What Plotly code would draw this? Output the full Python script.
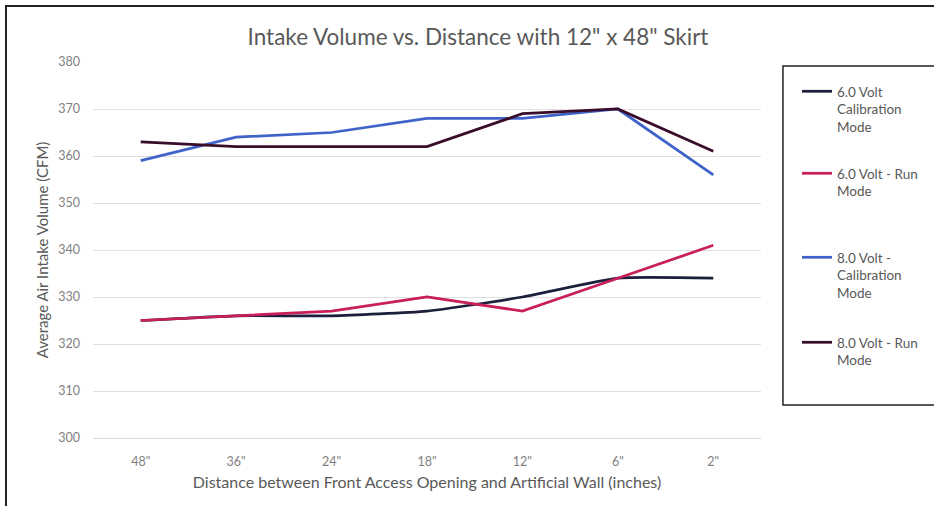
import plotly.graph_objects as go

categories = ['48"', '36"', '24"', '18"', '12"', '6"', '2"']
v6_cal = [325, 326, 326, 327, 330, 334, 334]
v6_run = [325, 326, 327, 330, 327, 334, 341]
v8_cal = [359, 364, 365, 368, 368, 370, 356]
v8_run = [363, 362, 362, 362, 369, 370, 361]

names = ["6.0 Volt<br>Calibration<br>Mode", "6.0 Volt - Run<br>Mode",
         "8.0 Volt -<br>Calibration<br>Mode", "8.0 Volt - Run<br>Mode"]
series = [v6_cal, v6_run, v8_cal, v8_run]
colors = ["#1c1f3c", "#c81f5a", "#3f63c9", "#3a0c2c"]
legends = ["legend", "legend2", "legend3", "legend4"]
shapes_line = ["spline", "linear", "linear", "linear"]

W, H = 934, 506
L, R, T, B = 93, 172, 62, 68
pw, ph = W - L - R, H - T - B

def px(x):
    return (x - L) / pw

def py(y):
    return (H - B - y) / ph

font = "Lato, 'Open Sans', sans-serif"
fig = go.Figure()
for name, vals, c, lg, sh in zip(names, series, colors, legends, shapes_line):
    fig.add_trace(go.Scatter(x=categories, y=vals, name=name, mode="lines",
                             line=dict(color=c, width=2.75, shape=sh, smoothing=0.5),
                             legend=lg))

leg_y = [92, 174, 258, 343]
leg_common = dict(font=dict(family=font, size=13.5, color="#595959"), bgcolor="rgba(0,0,0,0)",
                  valign="top", xanchor="left", yanchor="top", itemwidth=30)
layout_leg = {}
for lg, yy in zip(legends, leg_y):
    layout_leg[lg] = dict(x=px(797), y=py(yy - 16), **leg_common)

fig.update_layout(
    width=W, height=H,
    margin=dict(l=L, r=R, t=T, b=B),
    paper_bgcolor="white", plot_bgcolor="white",
    title=dict(text='Intake Volume vs. Distance with 12" x 48" Skirt', x=(248 + 708) / 2 / W,
               xanchor="center", y=1 - 37 / H, yanchor="middle",
               font=dict(family=font, size=22.5, color="#595959")),
    xaxis=dict(type="category", range=[-0.5, 6.5], showgrid=False, showline=True, linecolor="#d9d9d9",
               tickfont=dict(family=font, size=12.5, color="#7f7f7f"), ticks="", ticklabelstandoff=12,
               title=dict(text="Distance between Front Access Opening and Artificial Wall (inches)",
                          font=dict(family=font, size=16, color="#595959"), standoff=8)),
    yaxis=dict(range=[300, 380], dtick=10, showgrid=True, gridcolor="#e0e0e0", zeroline=False,
               tickfont=dict(family=font, size=12.5, color="#7f7f7f"), ticks="", ticklabelstandoff=12,
               title=dict(text="Average Air Intake Volume (CFM)",
                          font=dict(family=font, size=15, color="#595959"), standoff=6)),
    showlegend=True,
    shapes=[
        dict(type="rect", xref="paper", yref="paper", x0=px(784), x1=px(945), y0=py(405), y1=py(66),
             line=dict(color="#222222", width=1.5), fillcolor="rgba(0,0,0,0)", layer="above"),
    ],
    **layout_leg,
)

post = (
    "document.body.style.margin='0';"
    "document.body.style.overflow='hidden';"
    "var d=document.createElement('div');"
    "d.style.cssText='position:absolute;left:5px;top:5px;width:929px;height:501px;"
    "box-sizing:border-box;border-top:2px solid #222;border-left:2px solid #222;pointer-events:none;z-index:10;';"
    "document.body.appendChild(d);"
)
fig.write_html("out.html", config={"displayModeBar": False}, post_script=post)
